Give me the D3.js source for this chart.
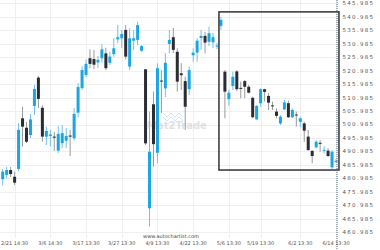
<!DOCTYPE html>
<html>
<head>
<meta charset="utf-8">
<script src="https://cdn.jsdelivr.net/npm/d3@7"></script>
<style>
  html, body { margin: 0; padding: 0; background: #fff; }
  svg { display: block; font-family: "DejaVu Sans", sans-serif; }
</style>
</head>
<body>
<div id="viz"></div>
<script>
// candle data
var opens = [480.7, 482.3, 484.1, 481.6, 484.5, 503.3, 499.8, 497.1, 507.9, 518.4,
  507.2, 496.5, 496.7, 496.5, 491.3, 494.1, 495.0, 496.9, 495.9, 505.4,
  514.5, 519.4, 525.6, 525.3, 524.0, 525.6, 527.4, 523.9, 527.1, 532.6,
  533.0, 536.1, 522.5, 532.1, 532.4, 528.4, 521.5, 469.9, 508.5, 490.5,
  517.3, 514.4, 530.9, 533.4, 528.0, 520.0, 517.1, 514.1, 526.7, 527.7,
  533.1, 533.9, 531.7, 531.5, 530.0, 537.6, 520.6, 510.4, 515.3, 520.7,
  514.6, 517.1, 515.0, 510.9, 502.9, 508.9, 514.1, 511.6, 508.1, 505.8,
  501.4, 506.6, 508.9, 503.7, 504.7, 502.0, 501.4, 496.5, 491.2, 492.5,
  494.2, 491.4, 491.3, 485.1, 487.4];
var highs = [484.5, 485.2, 485.2, 483.5, 501.5, 507.5, 501.9, 504.9, 515.7, 519.0,
  508.2, 500.2, 499.0, 498.3, 500.4, 500.8, 499.7, 499.0, 507.1, 516.4,
  522.7, 525.2, 528.9, 528.7, 526.4, 530.8, 529.5, 528.0, 533.1, 537.9,
  536.1, 537.9, 536.7, 536.1, 539.2, 530.5, 521.6, 505.8, 513.2, 523.7,
  521.2, 527.5, 536.1, 536.8, 529.3, 523.8, 518.7, 522.5, 529.3, 533.0,
  536.1, 535.4, 537.3, 535.0, 531.3, 540.9, 521.2, 513.8, 520.6, 521.2,
  516.9, 517.5, 515.7, 511.3, 508.2, 514.4, 514.3, 512.6, 509.5, 507.0,
  504.5, 510.1, 509.8, 507.0, 505.8, 503.7, 502.0, 499.0, 491.5, 495.2,
  495.2, 493.0, 492.2, 491.5, 488.2];
var lows = [478.3, 481.1, 481.5, 478.5, 483.7, 492.8, 494.1, 496.0, 504.5, 507.1,
  494.6, 493.4, 492.8, 491.2, 490.5, 492.3, 492.3, 489.3, 495.0, 503.7,
  513.8, 518.6, 521.9, 521.6, 522.0, 523.9, 521.2, 523.1, 526.1, 531.1,
  529.4, 525.2, 521.2, 528.7, 530.5, 527.9, 493.4, 463.1, 485.3, 486.6,
  505.3, 511.2, 527.5, 527.5, 513.2, 513.8, 499.0, 512.0, 524.3, 524.3,
  528.7, 527.4, 530.1, 529.4, 529.0, 536.1, 503.3, 507.9, 513.8, 513.4,
  510.7, 510.8, 512.5, 503.3, 502.7, 507.6, 509.5, 506.4, 506.4, 503.3,
  500.8, 506.4, 503.4, 503.4, 500.2, 500.0, 494.6, 491.3, 486.6, 492.3,
  490.9, 490.3, 488.9, 484.4, 486.7];
var closes = [483.5, 484.1, 482.6, 479.4, 499.0, 500.2, 494.6, 502.9, 514.2, 510.5,
  496.5, 498.6, 497.3, 496.1, 497.5, 497.8, 496.7, 496.5, 504.9, 514.9,
  521.2, 523.5, 523.5, 523.2, 525.0, 528.9, 521.9, 526.2, 529.3, 533.4,
  534.6, 526.2, 533.0, 533.0, 537.9, 530.1, 494.0, 490.9, 493.7, 521.9,
  517.0, 523.9, 532.4, 528.7, 516.9, 519.3, 507.6, 521.2, 527.7, 532.1,
  533.9, 531.4, 534.9, 533.4, 530.3, 539.8, 513.2, 512.8, 518.7, 514.1,
  514.4, 515.0, 512.8, 503.7, 507.9, 514.1, 513.1, 509.1, 507.9, 504.2,
  503.9, 509.2, 503.7, 506.4, 504.5, 503.3, 498.7, 491.5, 489.3, 494.6,
  494.0, 491.6, 489.3, 490.9, 487.5];

// axis ticks
var yTicks = [460.985, 465.985, 470.985, 475.985, 480.985, 485.985, 490.985, 495.985,
  500.985, 505.985, 510.985, 515.985, 520.985, 525.985, 530.985, 535.985, 540.985, 545.985];
var xTickIdx = [3, 12, 21, 30, 39, 48, 57, 65, 75, 84];
var xTickLabels = ['2/21 14:30', '3/6 14:30', '3/17 13:30', '3/27 13:30', '4/9 13:30',
  '4/22 13:30', '5/6 13:30', '5/19 13:30', '6/2 13:30', '6/14 13:30'];

// pattern box (candle index range and price range)
var boxIdx = [54.5, 84.75];
var boxPrice = [484.1, 542.8];

var data = opens.map(function(o, i) {
  return {i: i, o: o, h: highs[i], l: lows[i], c: closes[i]};
});
console.log(data.length);

var W = 380, H = 250, plotRight = 339, plotBottom = 238;
var upCol = '#1ba6e2', downCol = '#2c2c33';

var svg = d3.select('#viz').append('svg')
  .attr('width', W).attr('height', H);

var x = d3.scaleLinear().domain([0, data.length - 1]).range([2.7, 336]);
var y = d3.scaleLinear().domain([458.87, 547.21]).range([plotBottom, 0]);

// grid
svg.append('g').selectAll('line').data(yTicks).enter().append('line')
  .attr('x1', 0).attr('x2', plotRight)
  .attr('y1', function(d){ return Math.round(y(d)) + 0.5; })
  .attr('y2', function(d){ return Math.round(y(d)) + 0.5; })
  .attr('stroke', '#efefef');

svg.append('g').selectAll('line').data(xTickIdx).enter().append('line')
  .attr('x1', function(d){ return Math.round(x(d)) + 0.5; })
  .attr('x2', function(d){ return Math.round(x(d)) + 0.5; })
  .attr('y1', 0).attr('y2', plotBottom)
  .attr('stroke', '#efefef');

// watermark
var wm = svg.append('g').attr('opacity', 0.5);
wm.append('path')
  .attr('d', 'M163,113 l4,4 l4,-4 l4,4 l4,-4 l4,4 M163,117 l4,4 l4,-4 l4,4 l4,-4 l4,4')
  .attr('fill', 'none').attr('stroke', '#9fd3f0').attr('stroke-width', 1);
wm.append('text')
  .attr('x', 177).attr('y', 129)
  .attr('text-anchor', 'middle')
  .attr('font-size', '10px').attr('font-weight', 'bold')
  .attr('fill', '#c3c8cc')
  .text('Mat2Trade');

// candles
var candles = svg.append('g').selectAll('g').data(data).enter().append('g');

candles.append('line')
  .attr('x1', function(d){ return x(d.i); })
  .attr('x2', function(d){ return x(d.i); })
  .attr('y1', function(d){ return y(d.h); })
  .attr('y2', function(d){ return y(d.l); })
  .attr('stroke', function(d){ return d.c >= d.o ? '#6cc3ec' : '#9a9a9a'; })
  .attr('stroke-width', 1);

candles.append('rect')
  .attr('x', function(d){ return x(d.i) - 1.5; })
  .attr('width', 3)
  .attr('y', function(d){ return y(Math.max(d.o, d.c)); })
  .attr('height', function(d){ return Math.max(1, Math.abs(y(d.o) - y(d.c))); })
  .attr('fill', function(d){ return d.c >= d.o ? upCol : downCol; });

// pattern box
svg.append('rect')
  .attr('x', x(boxIdx[0]))
  .attr('y', y(boxPrice[1]))
  .attr('width', x(boxIdx[1]) - x(boxIdx[0]))
  .attr('height', y(boxPrice[0]) - y(boxPrice[1]))
  .attr('fill', 'none')
  .attr('stroke', '#333')
  .attr('stroke-width', 1.5);

// current time line
svg.append('line')
  .attr('x1', x(data.length - 1) + 1).attr('x2', x(data.length - 1) + 1)
  .attr('y1', 0).attr('y2', H)
  .attr('stroke', '#4d6a72')
  .attr('stroke-dasharray', '1,1');

// y labels
svg.append('g').selectAll('text').data(yTicks).enter().append('text')
  .attr('x', 342.5)
  .attr('y', function(d){ return y(d); })
  .attr('dy', '0.35em')
  .attr('font-size', '5.5px')
  .attr('letter-spacing', '1.3px')
  .attr('fill', '#555')
  .text(function(d){ return d.toFixed(3); });

// x labels
svg.append('g').selectAll('text').data(xTickIdx).enter().append('text')
  .attr('x', function(d){ return x(d); })
  .attr('y', 244.5)
  .attr('text-anchor', 'middle')
  .attr('font-size', '5px')
  .attr('fill', '#555')
  .text(function(d, i){ return xTickLabels[i]; });

svg.append('text')
  .attr('x', 171).attr('y', 237.5)
  .attr('text-anchor', 'middle')
  .attr('font-size', '5px')
  .attr('fill', '#444')
  .text('www.autochartist.com');
</script>
</body>
</html>
